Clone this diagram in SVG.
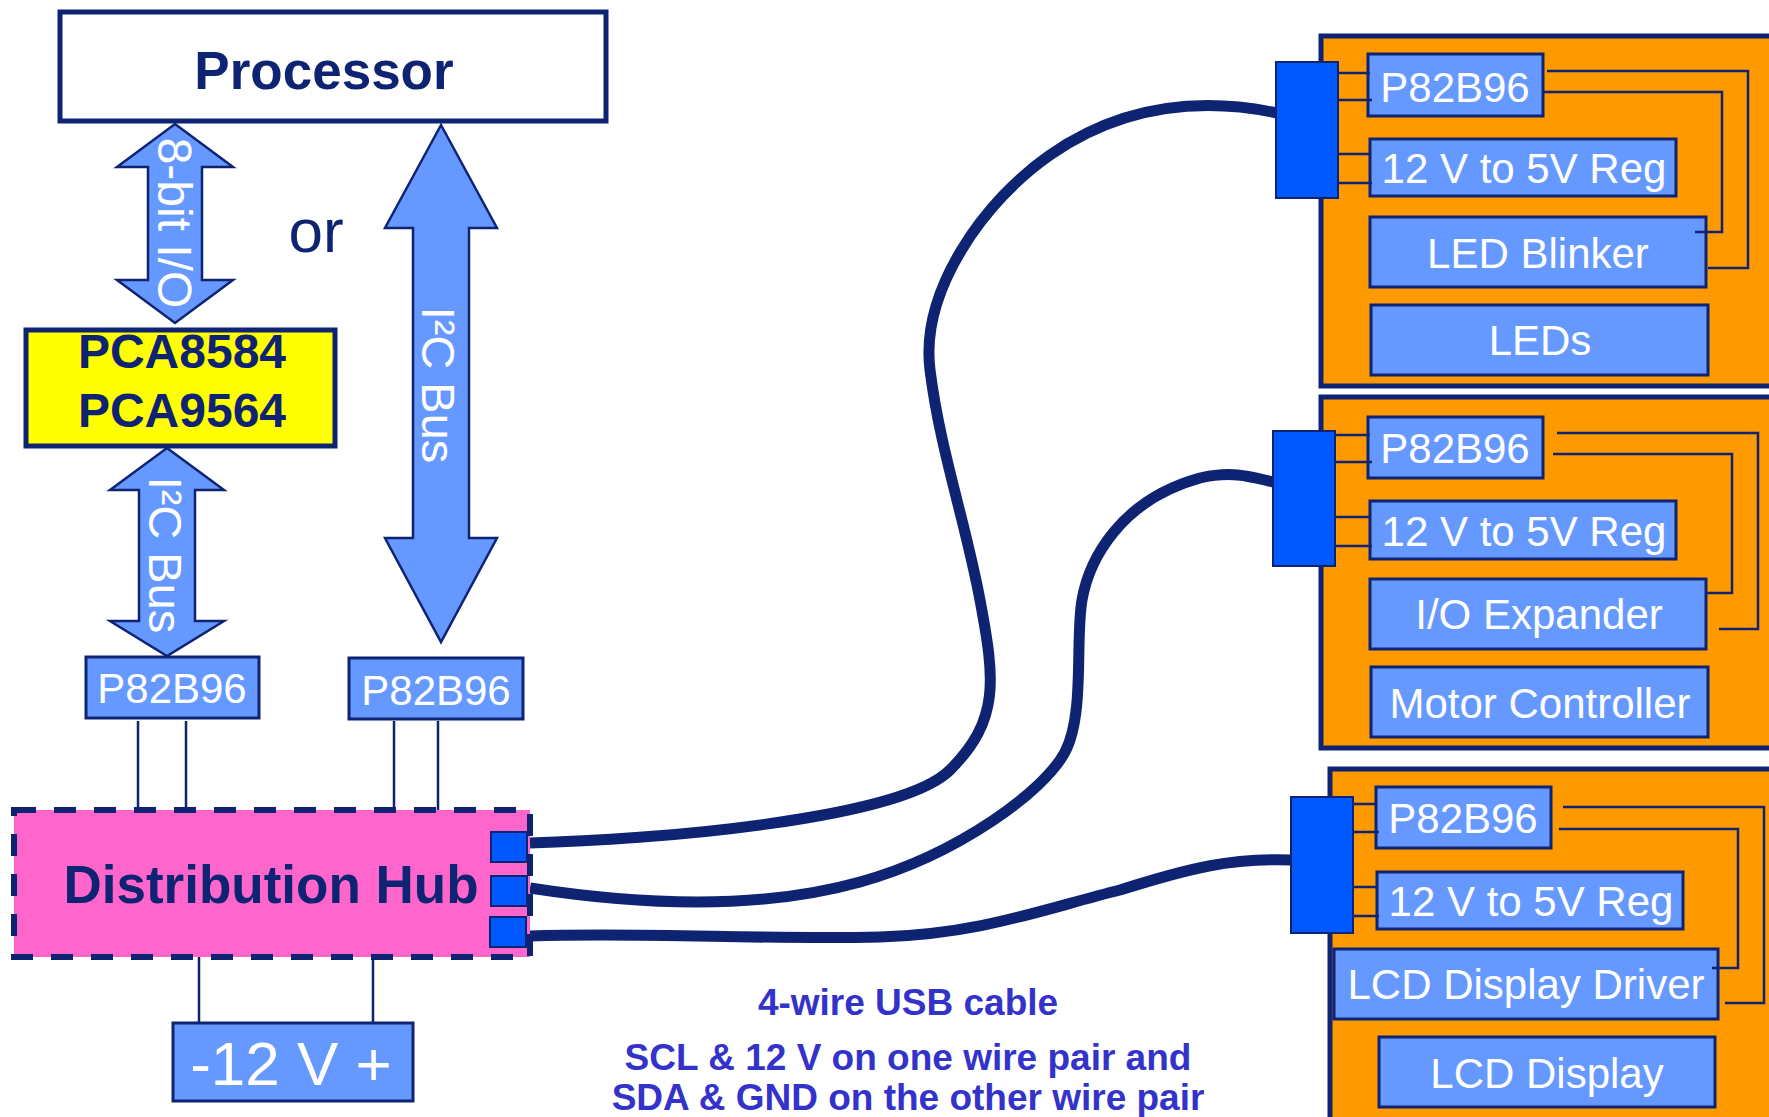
<svg xmlns="http://www.w3.org/2000/svg" width="1769" height="1117" viewBox="0 0 1769 1117">
<style>
.thin{fill:none;stroke:#0f2373;stroke-width:2.5}
.lb{fill:#6699ff;stroke:#0f2373;stroke-width:3}
.org{fill:#ff9900;stroke:#0f2373;stroke-width:5}
.con{fill:#0058ff;stroke:#0f2373;stroke-width:2}
.arr{fill:#6699ff;stroke:#0f2373;stroke-width:2.5;stroke-linejoin:miter}
.wt{fill:#ffffff;font-family:'Liberation Sans',Arial,sans-serif;font-size:42px;text-anchor:middle}
.bt{fill:#0f2373;font-family:'Liberation Sans',Arial,sans-serif;font-weight:bold;text-anchor:middle}
.cap{fill:#3333cc;font-family:'Liberation Sans',Arial,sans-serif;font-weight:bold;font-size:37px;text-anchor:middle}
.wire{fill:none;stroke:#0f2373;stroke-width:11}
</style>
<rect width="1769" height="1117" fill="#ffffff"/>

<g id="processor">
<rect x="60" y="12" width="546" height="109" fill="#ffffff" stroke="#0f2373" stroke-width="5"/>
<text class="bt" x="324" y="89" style="font-size:53px">Processor</text>
</g>

<g id="arrow-8bit">
<polygon class="arr" points="175,124 233,167 202,167 202,280 233,280 175,323 117,280 148,280 148,167 117,167"/>
<text class="wt" style="font-size:48px" transform="translate(158,223) rotate(90)">8-bit I/O</text>
</g>

<text id="or" x="316" y="252" fill="#0f2373" font-family="'Liberation Sans',Arial,sans-serif" font-size="62" text-anchor="middle">or</text>

<g id="arrow-i2c-main">
<polygon class="arr" points="441,125 497,228 469,228 469,538 497,538 441,642 385,538 413,538 413,228 385,228"/>
<text class="wt" style="font-size:47px" transform="translate(422,385) rotate(90)">I²C Bus</text>
</g>

<g id="pca">
<rect x="26" y="330" width="309" height="116" fill="#ffff00" stroke="#0f2373" stroke-width="5"/>
<text class="bt" x="182" y="368" style="font-size:48px">PCA8584</text>
<text class="bt" x="182" y="427" style="font-size:48px">PCA9564</text>
</g>

<g id="arrow-i2c-left">
<polygon class="arr" points="167,448 224,490 195,490 195,621 224,621 167,656 110,621 139,621 139,490 110,490"/>
<text class="wt" style="font-size:47px" transform="translate(149,555) rotate(90)">I²C Bus</text>
</g>

<g id="p82b96-left">
<rect class="lb" x="86" y="657" width="173" height="61"/>
<text class="wt" x="172" y="703">P82B96</text>
</g>

<g id="p82b96-mid">
<rect class="lb" x="349" y="658" width="174" height="61"/>
<text class="wt" x="436" y="705">P82B96</text>
</g>

<g id="connectors">
<line class="thin" x1="138" y1="721" x2="138" y2="810"/>
<line class="thin" x1="186" y1="721" x2="186" y2="810"/>
<line class="thin" x1="394" y1="721" x2="394" y2="810"/>
<line class="thin" x1="438" y1="721" x2="438" y2="810"/>
<line class="thin" x1="199" y1="957" x2="199" y2="1023"/>
<line class="thin" x1="373" y1="957" x2="373" y2="1023"/>
<path class="wire" d="M530,843 C650,840 900,820 950,770 S995,680 980,600 S940,450 930,370 S985,200 1050,155 S1190,95 1277,113"/>
<path class="wire" d="M530,888 C640,905 760,910 860,882 S1045,790 1065,752 S1075,640 1082,600 S1120,500 1200,478 C1235,470 1255,478 1273,482"/>
<path class="wire" d="M530,936 C650,932 760,940 880,937 C980,934 1040,910 1120,890 C1190,868 1230,858 1291,860"/>
</g>

<g id="hub">
<rect x="14" y="810" width="516" height="147" fill="#ff66cc" stroke="#0f2373" stroke-width="6" stroke-dasharray="22 18"/>
<text class="bt" x="271" y="903" style="font-size:53px">Distribution Hub</text>
<rect class="con" x="491" y="832" width="36" height="30"/>
<rect class="con" x="491" y="876" width="36" height="30"/>
<rect class="con" x="490" y="917" width="36" height="30"/>
</g>

<g id="power">
<rect class="lb" x="173" y="1023" width="240" height="78"/>
<text class="wt" x="291" y="1085" style="font-size:62px">-12 V +</text>
</g>

<g id="board1">
<rect class="org" x="1321" y="36" width="452" height="350"/>
<rect class="lb" x="1368" y="54" width="175" height="62"/>
<text class="wt" x="1455" y="102">P82B96</text>
<rect class="lb" x="1370" y="139" width="306" height="57"/>
<text class="wt" x="1524" y="183">12 V to 5V Reg</text>
<rect class="lb" x="1370" y="217" width="336" height="70"/>
<text class="wt" x="1538" y="268">LED Blinker</text>
<rect class="lb" x="1371" y="305" width="337" height="70"/>
<text class="wt" x="1540" y="355">LEDs</text>
<polyline class="thin" points="1543,92 1722,92 1722,232 1695,232"/>
<polyline class="thin" points="1547,71 1748,71 1748,268 1708,268"/>
<line class="thin" x1="1338" y1="73" x2="1370" y2="73"/>
<line class="thin" x1="1338" y1="100" x2="1372" y2="100"/>
<line class="thin" x1="1338" y1="154" x2="1371" y2="154"/>
<line class="thin" x1="1338" y1="183" x2="1372" y2="183"/>
<rect class="con" x="1276" y="62" width="62" height="136"/>
</g>

<g id="board2">
<rect class="org" x="1321" y="397" width="452" height="351"/>
<rect class="lb" x="1368" y="417" width="175" height="61"/>
<text class="wt" x="1455" y="463">P82B96</text>
<rect class="lb" x="1370" y="501" width="306" height="58"/>
<text class="wt" x="1524" y="546">12 V to 5V Reg</text>
<rect class="lb" x="1370" y="579" width="336" height="70"/>
<text class="wt" x="1539" y="629">I/O Expander</text>
<rect class="lb" x="1371" y="667" width="337" height="70"/>
<text class="wt" x="1540" y="718">Motor Controller</text>
<polyline class="thin" points="1553,454 1732,454 1732,593 1707,593"/>
<polyline class="thin" points="1557,433 1758,433 1758,629 1719,629"/>
<line class="thin" x1="1335" y1="435" x2="1370" y2="435"/>
<line class="thin" x1="1335" y1="462" x2="1372" y2="462"/>
<line class="thin" x1="1335" y1="517" x2="1370" y2="517"/>
<line class="thin" x1="1335" y1="546" x2="1372" y2="546"/>
<rect class="con" x="1273" y="431" width="62" height="135"/>
</g>

<g id="board3">
<rect class="org" x="1330" y="769" width="445" height="360"/>
<rect class="lb" x="1376" y="787" width="175" height="61"/>
<text class="wt" x="1463" y="833">P82B96</text>
<rect class="lb" x="1377" y="872" width="306" height="57"/>
<text class="wt" x="1531" y="916">12 V to 5V Reg</text>
<rect class="lb" x="1334" y="949" width="384" height="70"/>
<text class="wt" x="1526" y="999">LCD Display Driver</text>
<rect class="lb" x="1379" y="1037" width="336" height="70"/>
<text class="wt" x="1547" y="1088">LCD Display</text>
<polyline class="thin" points="1559,829 1738,829 1738,968 1712,968"/>
<polyline class="thin" points="1563,807 1764,807 1764,1003 1725,1003"/>
<line class="thin" x1="1353" y1="804" x2="1377" y2="804"/>
<line class="thin" x1="1353" y1="832" x2="1379" y2="832"/>
<line class="thin" x1="1353" y1="887" x2="1377" y2="887"/>
<line class="thin" x1="1353" y1="916" x2="1379" y2="916"/>
<rect class="con" x="1291" y="797" width="62" height="136"/>
</g>

<g id="caption">
<text class="cap" x="908" y="1015">4-wire USB cable</text>
<text class="cap" x="908" y="1070">SCL &amp; 12 V on one wire pair and</text>
<text class="cap" x="908" y="1110">SDA &amp; GND on the other wire pair</text>
</g>
</svg>
